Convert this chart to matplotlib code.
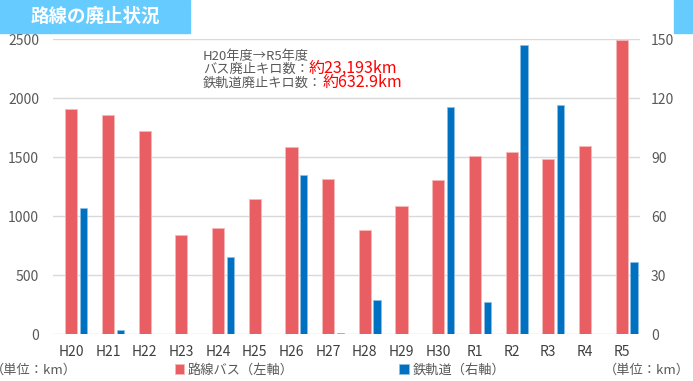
"""Bar chart of abolished bus routes and railway lines (H20-R5)."""

import matplotlib
matplotlib.use("Agg")
from matplotlib import pyplot as plt
from matplotlib.patches import Rectangle
import numpy as np

plt.rcParams['font.family'] = ['Noto Sans CJK JP', 'DejaVu Sans']

# data
years = ["H20", "H21", "H22", "H23", "H24", "H25", "H26", "H27",
         "H28", "H29", "H30", "R1", "R2", "R3", "R4", "R5"]
bus_km = [1907, 1856, 1722, 842, 900, 1144, 1588, 1313,
          883, 1091, 1307, 1511, 1544, 1486, 1596, 2494]
rail_km = [64.2, 2.4, 0, 0, 39.5, 0, 80.8, 0.6,
           17.3, 0, 115.4, 16.6, 146.9, 116.4, 0, 36.9]

RED = "#E95E62"
BLUE = "#0070C0"
GRAY = "#595959"

W, H = 693, 381
fig = plt.figure(figsize=(W / 100, H / 100), dpi=100)
ax = fig.add_axes([53 / W, 1 - 334.3 / H, 587 / W, 295 / H])
ax2 = ax.twinx()

x = np.arange(len(years))
ax.bar(x, bus_km, width=0.33, color=RED, edgecolor="#F6B8B8",
       linewidth=0.6, zorder=2, label="路線バス（左軸）")
ax2.bar(x + 0.335, rail_km, width=0.2, color=BLUE, edgecolor="#8DBFE6",
        linewidth=0.5, zorder=2, label="鉄軌道（右軸）")

ax.set_xlim(-0.5, len(years) - 0.5)
ax.set_ylim(0, 2500)
ax2.set_ylim(0, 150)
ax.set_yticks(range(0, 2501, 500))
ax2.set_yticks(range(0, 151, 30))
ax.set_xticks(x)
ax.set_xticklabels(years)

ax.set_axisbelow(True)
ax.grid(axis="y", color="#D9D9D9", linewidth=1)
for a in (ax, ax2):
    for s in a.spines.values():
        s.set_visible(False)
ax.tick_params(axis="y", length=0, pad=10, labelsize=10, labelcolor=GRAY)
ax.tick_params(axis="x", length=0, pad=8, labelsize=10, labelcolor="#404040")
ax2.tick_params(axis="y", length=0, pad=8, labelsize=10, labelcolor=GRAY)

# title banner and the corner block
fig.patches.append(Rectangle((0, 1 - 33 / H), 190 / W, 33 / H,
                             transform=fig.transFigure, color="#66CCFF"))
fig.patches.append(Rectangle((674 / W, 1 - 33 / H), 19 / W, 33 / H,
                             transform=fig.transFigure, color="#66CCFF"))
fig.text(95 / W, 1 - 16.5 / H, "路線の廃止状況", color="white",
         fontsize=13.3, fontweight="bold", ha="center", va="center")

# annotation: gray label followed by red value on the same baseline
fig.text(203 / W, 1 - 60 / H, "H20年度→R5年度", color=GRAY,
         fontsize=9.5, va="baseline")
t1 = fig.text(203 / W, 1 - 73 / H, "バス廃止キロ数：", color=GRAY,
              fontsize=9.5, va="baseline")
t2 = fig.text(203 / W, 1 - 86.5 / H, "鉄軌道廃止キロ数：", color=GRAY,
              fontsize=9.5, va="baseline")
fig.canvas.draw()
renderer = fig.canvas.get_renderer()
for t, val, ybase in ((t1, "約23,193km", 73), (t2, "約632.9km", 86.5)):
    x1 = t.get_window_extent(renderer).x1
    fig.text(x1 / W, 1 - ybase / H, val, color="#FF0000", fontsize=11.5,
             ha="left", va="baseline")

# legend and units
fig.legend(loc="center", bbox_to_anchor=(340 / W, 1 - 370 / H), ncol=2,
           frameon=False, fontsize=9.5, handlelength=0.7, handleheight=0.7,
           handletextpad=0.3, columnspacing=8, labelcolor=GRAY)
fig.text(-9 / W, 1 - 370 / H, "（単位：km）", color=GRAY, fontsize=9.5,
         va="center")
fig.text(604 / W, 1 - 370 / H, "（単位：km）", color=GRAY, fontsize=9.5,
         va="center")

fig.savefig("out.png", dpi=100)
